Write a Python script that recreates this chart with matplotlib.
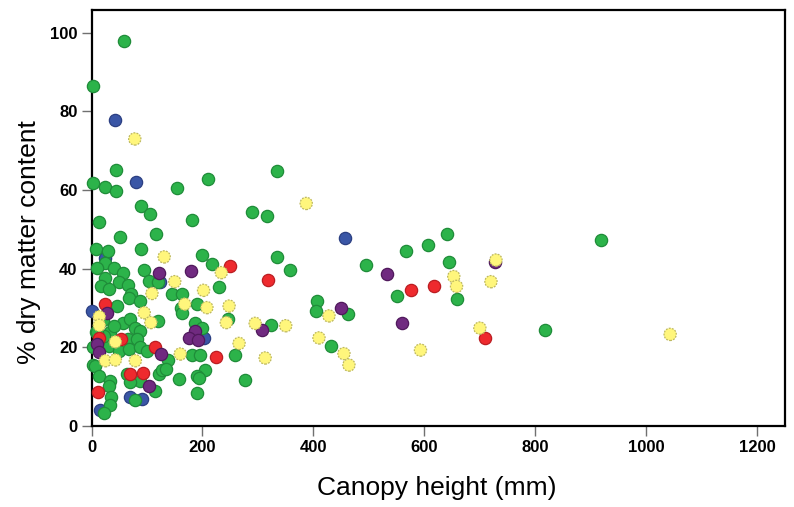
import matplotlib
matplotlib.use("Agg")
import matplotlib.pyplot as plt

# Canopy height (mm) and % dry matter content, grouped by colour class
green_x = [58, 3, 45, 3, 24, 44, 155, 210, 334, 89, 106, 13, 182, 290, 316,
           334, 358, 495, 567, 607, 640, 645, 551, 659, 817, 918, 406, 405, 462, 324, 432, 277,
           51, 117, 8, 30, 90, 24, 10, 40, 56, 25, 49, 18, 31, 65, 95, 103, 120, 199, 218, 230,
           145, 163, 71, 67, 88, 46, 56, 70, 79, 88, 34, 40, 66, 82, 31, 49, 67, 87, 100,
           3, 3, 7, 13, 34, 31, 64, 88, 70, 115, 36, 34, 79, 22, 122,
           162, 164, 190, 120, 246, 187, 200, 181, 196, 138, 127, 134, 158, 205, 190, 194, 190, 259,
           20, 22, 8, 10]
green_y = [98, 86.5, 65, 61.8, 60.7, 59.7, 60.5, 62.7, 64.8, 55.9, 54, 51.8, 52.3, 54.5, 53.3,
           43, 39.6, 41, 44.6, 46.1, 48.9, 41.7, 33.1, 32.4, 24.4, 47.4, 31.9, 29.2, 28.6, 25.7, 20.3, 11.6,
           48.1, 48.9, 45, 44.5, 45, 41.5, 40.3, 40.3, 39, 37.7, 36.5, 35.6, 34.8, 35.9, 39.8, 37, 36.7, 43.6, 41.1, 35.4,
           33.5, 33.5, 33.5, 32.6, 31.8, 30.5, 26.3, 27.2, 25, 24.2, 23.9, 25.5, 22, 22, 20.4, 19.1, 19.5, 20, 19.1,
           20, 15.5, 15.3, 12.8, 11.5, 10.2, 13.2, 11.5, 11.1, 9, 7.4, 5.4, 6.6, 3.2, 13.2,
           29.9, 28.8, 31, 26.7, 27.3, 26.3, 25, 18, 18, 16.8, 14.2, 14.5, 11.9, 14.2, 12.8, 12.2, 8.5, 18,
           27, 23, 24, 23.8]

blue_x = [43, 80, 457, 25, 124, 0, 202, 70, 91, 16]
blue_y = [77.8, 62, 47.9, 42.8, 36.5, 29.2, 22.5, 7.3, 6.9, 4.1]

yellow_x = [78, 387, 653, 658, 729, 720, 700, 593, 428, 295, 350, 410, 455, 464, 313, 1043,
            131, 234, 150, 202, 109, 14, 14, 95, 107, 168, 208, 248, 243, 266, 160, 43, 25, 43, 79]
yellow_y = [73, 56.6, 38, 35.5, 42.2, 36.7, 24.9, 19.3, 28, 26.1, 25.5, 22.4, 18.4, 15.5, 17.3, 23.3,
            43, 39, 36.7, 34.5, 33.7, 27.8, 25.6, 28.8, 26.3, 31, 30.1, 30.5, 26.3, 21, 18.3, 21.4, 16.6, 16.8, 16.6]

red_x = [319, 575, 617, 710, 249, 25, 13, 54, 114, 224, 70, 92, 12]
red_y = [37.1, 34.6, 35.5, 22.3, 40.7, 31, 22.5, 22.2, 20.2, 17.6, 13.2, 13.6, 8.7]

purple_x = [533, 727, 559, 449, 307, 121, 179, 28, 10, 13, 186, 175, 192, 125, 103]
purple_y = [38.7, 41.6, 26.3, 30, 24.4, 39, 39.4, 28.8, 20.8, 18.9, 24.2, 22.5, 21.9, 18.2, 10.2]

x_ticks = [0, 200, 400, 600, 800, 1000, 1200]
y_ticks = [0, 20, 40, 60, 80, 100]

plt.rcParams['font.family'] = ['Liberation Sans', 'DejaVu Sans']

fig = plt.figure(figsize=(7.94, 5.07), dpi=100)
ax = fig.add_axes([91.5 / 794, 1 - 426 / 507, (785 - 91.5) / 794, (426 - 10) / 507])

groups = [
    (blue_x, blue_y, '#3A56A6', '#2B3F82', 'solid'),
    (green_x, green_y, '#2CB34A', '#1F8C39', 'solid'),
    (red_x, red_y, '#EE2A2E', '#BB1D22', 'solid'),
    (purple_x, purple_y, '#702A80', '#50195C', 'solid'),
    (yellow_x, yellow_y, '#FFF67C', '#BDB860', (0, (1.5, 1.0))),
]
for i, (gx, gy, fc, ec, ls) in enumerate(groups):
    ax.scatter(gx, gy, s=78, c=fc, edgecolors=ec, linewidths=0.9, linestyles=ls,
               zorder=3 + i, clip_on=False)

ax.set_xlim(0, 1250)
ax.set_ylim(0, 105.8)
ax.set_xticks(x_ticks)
ax.set_yticks(y_ticks)
ax.set_xticklabels([str(t) for t in x_ticks], fontweight='bold', fontsize=12)
ax.set_yticklabels([str(t) for t in y_ticks], fontweight='bold', fontsize=12)
ax.tick_params(direction='out', length=7, width=1.0, color='#707070', pad=3)

for sp in ax.spines.values():
    sp.set_linewidth(1.6)
    sp.set_color('black')

ax.set_xlabel('Canopy height (mm)', fontsize=19)
ax.set_ylabel('% dry matter content', fontsize=19)
ax.xaxis.set_label_coords((437 - 91.5) / 693.5, (426 - 488) / 416)
ax.yaxis.set_label_coords((29 - 91.5) / 693.5, (426 - 242) / 416)
ax.xaxis.label.set_va('center')
ax.yaxis.label.set_va('center')

fig.savefig('out.png', dpi=100)
